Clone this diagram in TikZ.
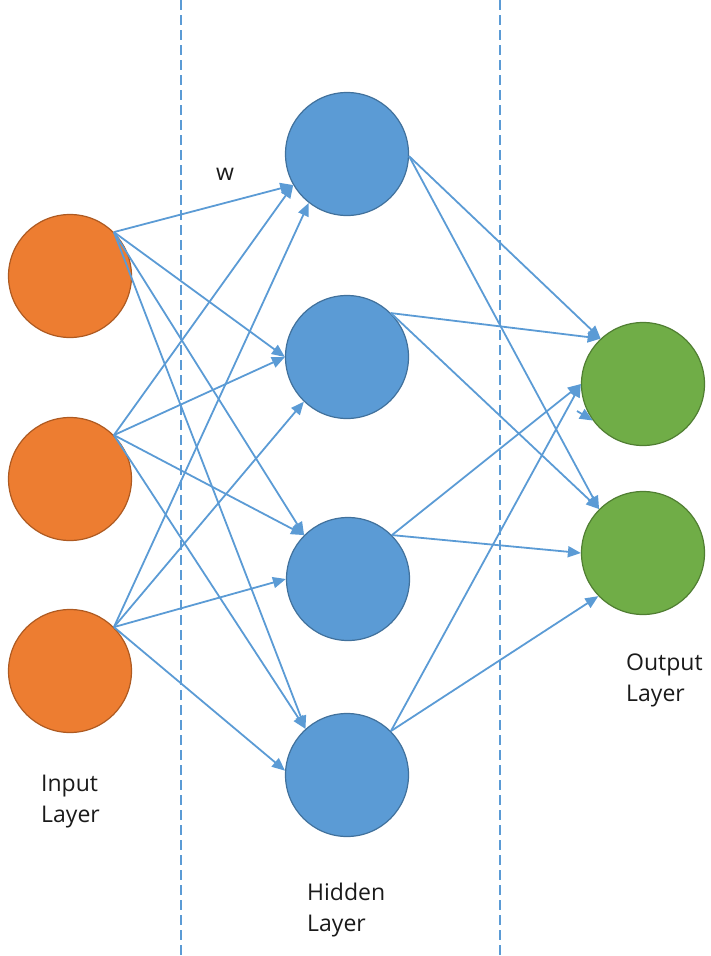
\documentclass[tikz,border=0pt]{standalone}
\usepackage{fontspec}
\setmainfont{Open Sans}
\usetikzlibrary{arrows.meta}
\definecolor{lineblue}{HTML}{5B9BD5}
\definecolor{hidfill}{HTML}{5B9BD5}
\definecolor{hiddraw}{HTML}{41719C}
\definecolor{infill}{HTML}{ED7D31}
\definecolor{indraw}{HTML}{AE5A21}
\definecolor{outfill}{HTML}{70AD47}
\definecolor{outdraw}{HTML}{507E32}
\definecolor{txt}{HTML}{1A1A1A}
\tikzset{
  neuron/.style={circle, inner sep=0pt, minimum size=123pt, line width=1.2pt},
  innode/.style={neuron, fill=infill, draw=indraw},
  hidnode/.style={neuron, fill=hidfill, draw=hiddraw},
  outnode/.style={neuron, fill=outfill, draw=outdraw},
  conn/.style={draw=lineblue, line width=1.8pt, -{Triangle[length=13pt,width=11pt]}},
  divider/.style={draw=lineblue, line width=1.6pt, dash pattern=on 10pt off 5pt},
  lbl/.style={text=txt, font=\fontsize{23}{30.5}\selectfont, align=left, inner sep=0pt}
}
\begin{document}
\begin{tikzpicture}[x=1pt,y=-1pt]
\useasboundingbox (0,0) rectangle (710,956);
% dividers
\coordinate (d1t) at (181,0); \coordinate (d1b) at (181,956);
\coordinate (d2t) at (500,0); \coordinate (d2b) at (500,956);
\draw[divider] (d1t) -- (d1b);
\draw[divider] (d2t) -- (d2b);
% neurons
\node[innode] (i1) at (70,276) {};
\node[innode] (i2) at (70,479) {};
\node[innode] (i3) at (70,671) {};
\node[hidnode] (h1) at (347,154) {};
\node[hidnode] (h2) at (347,357) {};
\node[hidnode] (h3) at (348,579) {};
\node[hidnode] (h4) at (347,775) {};
\node[outnode] (o1) at (643,384) {};
\node[outnode] (o2) at (643,553) {};
% input -> hidden
\draw[conn] (i1.45) -- (h1.210);
\draw[conn] (i2.45) -- (h1.210);
\draw[conn] (i3.45) -- (h1.232);
\draw[conn] (i1.45) -- (h2.180);
\draw[conn] (i2.45) -- (h2.180);
\draw[conn] (i3.45) -- (h2.226);
\draw[conn] (i1.45) -- (h3.135);
\draw[conn] (i2.45) -- (h3.135);
\draw[conn] (i3.45) -- (h3.180);
\draw[conn] (i1.45) -- (h4.132);
\draw[conn] (i2.45) -- (h4.132);
\draw[conn] (i3.45) -- (h4.176);
% hidden -> output
\draw[conn] (h1.-2) -- (o1.133);
\draw[conn] (h1.-2) -- (o2.135);
\draw[conn] (h2.45) -- (o1.133);
\draw[conn] (h2.45) -- (o2.135);
\draw[conn] (h3.45) -- (o1.180);
\draw[conn] (h3.45) -- (o2.180);
\draw[conn] (h4.45) -- (o1.180);
\draw[conn] (h4.45) -- (o2.224);
\coordinate (stub) at (577,411);
\draw[conn] (stub) -- (o1.216);
% labels
\node[lbl, anchor=base west] (wl) at (216,180) {w};
\node[lbl, anchor=north west] (inl) at (41,775) {Input\\Layer};
\node[lbl, anchor=north west] (hidl) at (307,883) {Hidden\\Layer};
\node[lbl, anchor=north west] (outl) at (626,654) {Output\\Layer};
\end{tikzpicture}
\end{document}
